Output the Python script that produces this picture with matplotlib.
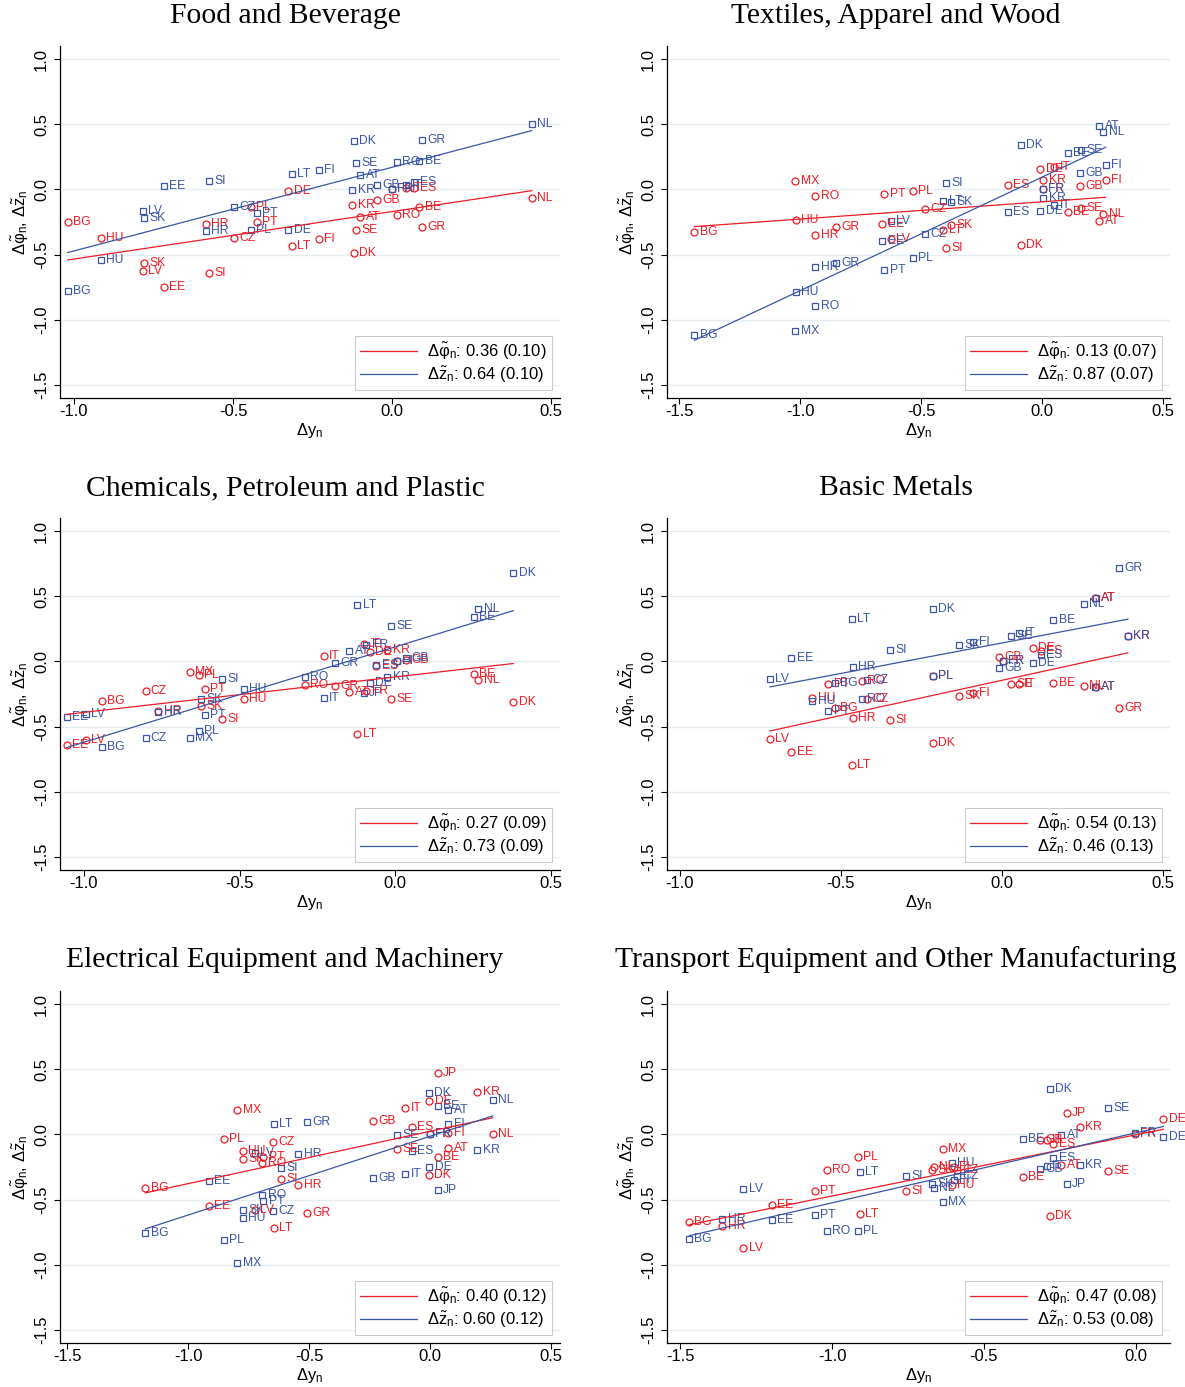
import matplotlib
matplotlib.use('Agg')
import matplotlib.pyplot as plt
from matplotlib.lines import Line2D
import numpy as np

plt.rcParams['font.family'] = ['Liberation Sans', 'DejaVu Sans']
plt.rcParams['mathtext.fontset'] = 'custom'
plt.rcParams['mathtext.rm'] = 'Liberation Sans'
plt.rcParams['mathtext.it'] = 'Liberation Sans:italic'
plt.rcParams['mathtext.default'] = 'regular'
plt.rcParams['axes.unicode_minus'] = False

RED = '#EE1C25'
BLUE = '#3A56A5'
GRID = '#E4EEF1'

# ---- Food and Beverage ----
food_names = ['BG', 'HU', 'LV', 'SK', 'EE', 'SI', 'HR', 'CZ', 'PL', 'PT', 'DE', 'LT', 'FI',
              'KR', 'DK', 'SE', 'AT', 'GB', 'FR', 'RO', 'IT', 'ES', 'BE', 'GR', 'NL']
food_dy = [-1.02, -0.915, -0.783, -0.781, -0.718, -0.575, -0.585, -0.497, -0.443, -0.425, -0.326,
           -0.315, -0.23, -0.125, -0.119, -0.114, -0.1, -0.046, 0.0, 0.014, 0.045, 0.07, 0.086,
           0.095, 0.439]
food_phi = [-0.25, -0.375, -0.626, -0.562, -0.746, -0.644, -0.267, -0.369, -0.136, -0.251, -0.015,
            -0.433, -0.379, -0.123, -0.49, -0.31, -0.213, -0.08, 0.0, -0.197, 0.01, 0.01, -0.133,
            -0.287, -0.064]
food_z = [-0.78, -0.544, -0.162, -0.223, 0.026, 0.067, -0.321, -0.133, -0.31, -0.179, -0.31,
          0.115, 0.146, -0.002, 0.369, 0.2, 0.113, 0.031, 0.0, 0.21, 0.035, 0.06, 0.221, 0.379,
          0.505]

# ---- Textiles, Apparel and Wood ----
tex_names = ['BG', 'MX', 'HU', 'RO', 'HR', 'GR', 'EE', 'PT', 'LV', 'PL', 'CZ', 'LT', 'SI', 'SK',
             'ES', 'DK', 'DE', 'FR', 'KR', 'IT', 'BE', 'GB', 'SE', 'AT', 'NL', 'FI']
tex_dy = [-1.437, -1.019, -1.018, -0.937, -0.937, -0.851, -0.66, -0.652, -0.624, -0.533, -0.485,
          -0.408, -0.398, -0.377, -0.142, -0.087, -0.007, 0.003, 0.006, 0.05, 0.106, 0.156,
          0.162, 0.237, 0.253, 0.263]
tex_phi = [-0.326, 0.064, -0.233, -0.049, -0.346, -0.29, -0.267, -0.036, -0.377, -0.01, -0.151,
           -0.315, -0.449, -0.274, 0.031, -0.428, 0.156, 0.0, 0.069, 0.172, -0.172, 0.023,
           -0.141, -0.246, -0.19, 0.074]
tex_z = [-1.115, -1.087, -0.79, -0.895, -0.595, -0.567, -0.397, -0.621, -0.246, -0.528, -0.341,
         -0.09, 0.049, -0.097, -0.174, 0.341, -0.164, 0.0, -0.069, -0.118, 0.279, 0.128, 0.3,
         0.485, 0.441, 0.19]

# ---- Chemicals, Petroleum and Plastic ----
chem_names = ['EE', 'LV', 'BG', 'CZ', 'HR', 'MX', 'PL', 'SK', 'PT', 'SI', 'HU', 'RO', 'IT', 'GR',
              'AT', 'LT', 'JP', 'FR', 'DE', 'ES', 'KR', 'SE', 'FI', 'GB', 'BE', 'NL', 'DK']
chem_dy = [-1.056, -0.994, -0.942, -0.802, -0.761, -0.659, -0.63, -0.624, -0.611, -0.557, -0.487,
           -0.29, -0.23, -0.193, -0.147, -0.121, -0.10, -0.092, -0.08, -0.06, -0.025, -0.012,
           0.005, 0.035, 0.254, 0.268, 0.38]
chem_phi = [-0.641, -0.602, -0.3, -0.225, -0.382, -0.079, -0.108, -0.344, -0.21, -0.438, -0.287,
            -0.179, 0.038, -0.192, -0.236, -0.554, 0.13, -0.225, 0.071, -0.038, 0.084, -0.287,
            0.0, 0.01, -0.095, -0.141, -0.308]
chem_z = [-0.425, -0.402, -0.654, -0.59, -0.385, -0.59, -0.536, -0.287, -0.41, -0.133, -0.21,
          -0.12, -0.279, -0.01, 0.079, 0.429, -0.243, 0.128, -0.164, -0.03, -0.118, 0.268, 0.0,
          0.025, 0.341, 0.4, 0.679]

# ---- Basic Metals ----
met_names = ['LV', 'EE', 'HU', 'PT', 'BG', 'LT', 'HR', 'RO', 'CZ', 'SI', 'DK', 'PL', 'SK', 'FI',
             'GB', 'FR', 'SE', 'IT', 'DE', 'ES', 'BE', 'NL', 'AT', 'AT', 'KR', 'GR']
met_dy = [-0.72, -0.654, -0.589, -0.539, -0.519, -0.466, -0.463, -0.435, -0.42, -0.348, -0.215,
          -0.215, -0.133, -0.089, -0.008, 0.002, 0.029, 0.054, 0.097, 0.12, 0.16, 0.255, 0.291,
          0.29, 0.391, 0.363]
met_phi = [-0.592, -0.695, -0.279, -0.172, -0.359, -0.797, -0.431, -0.15, -0.285, -0.446, -0.628,
           -0.11, -0.262, -0.244, 0.033, 0.0, -0.172, -0.172, 0.105, 0.08, -0.169, -0.186, -0.197,
           0.487, 0.192, -0.354]
met_z = [-0.138, 0.028, -0.305, -0.377, -0.167, 0.323, -0.044, -0.285, -0.14, 0.09, 0.405, -0.11,
         0.125, 0.146, -0.049, 0.0, 0.192, 0.218, -0.01, 0.05, 0.321, 0.441, 0.487, -0.197, 0.192,
         0.718]

# ---- Electrical Equipment and Machinery ----
ele_names = ['BG', 'EE', 'PL', 'MX', 'HU', 'SK', 'LV', 'PT', 'RO', 'CZ', 'LT', 'SI', 'HR', 'GR',
             'GB', 'SE', 'IT', 'ES', 'DE', 'DK', 'FR', 'BE', 'JP', 'FI', 'AT', 'KR', 'NL']
ele_dy = [-1.176, -0.914, -0.853, -0.796, -0.774, -0.772, -0.723, -0.689, -0.693, -0.65, -0.645,
          -0.615, -0.544, -0.51, -0.237, -0.135, -0.103, -0.076, -0.003, -0.004, 0.0, 0.032,
          0.032, 0.076, 0.076, 0.195, 0.259]
ele_phi = [-0.413, -0.55, -0.037, 0.191, -0.125, -0.189, -0.58, -0.175, -0.217, -0.058, -0.717,
           -0.344, -0.39, -0.6, 0.104, -0.114, 0.202, 0.058, 0.259, -0.313, 0.0, -0.176, 0.469,
           0.014, -0.104, 0.328, 0.004]
ele_z = [-0.755, -0.361, -0.812, -0.987, -0.642, -0.578, -0.14, -0.514, -0.467, -0.588, 0.076,
         -0.259, -0.153, 0.097, -0.334, -0.006, -0.3, -0.125, -0.253, 0.315, 0.004, 0.22, -0.429,
         0.079, 0.189, -0.12, 0.264]

# ---- Transport Equipment and Other Manufacturing ----
tra_names = ['BG', 'HR', 'LV', 'EE', 'PT', 'RO', 'PL', 'LT', 'SI', 'SK', 'NL', 'MX', 'HU', 'FI',
             'CZ', 'BE', 'GB', 'IT', 'DK', 'ES', 'AT', 'JP', 'KR', 'SE', 'FR', 'DE']
tra_dy = [-1.47, -1.361, -1.292, -1.197, -1.056, -1.017, -0.914, -0.908, -0.757, -0.672, -0.665,
          -0.636, -0.606, -0.60, -0.59, -0.371, -0.316, -0.294, -0.283, -0.272, -0.245, -0.228,
          -0.184, -0.093, -0.003, 0.09]
tra_phi = [-0.67, -0.704, -0.874, -0.539, -0.434, -0.272, -0.174, -0.614, -0.434, -0.274, -0.25,
           -0.112, -0.39, -0.25, -0.27, -0.33, -0.04, -0.04, -0.627, -0.073, -0.236, 0.161, 0.056,
           -0.282, 0.0, 0.117]
tra_z = [-0.802, -0.647, -0.418, -0.658, -0.619, -0.743, -0.743, -0.292, -0.32, -0.377, -0.408,
         -0.519, -0.218, -0.35, -0.32, -0.037, -0.269, -0.243, 0.351, -0.184, -0.004, -0.377,
         -0.236, 0.199, 0.009, -0.017]

titles = ['Food and Beverage', 'Textiles, Apparel and Wood', 'Chemicals, Petroleum and Plastic',
          'Basic Metals', 'Electrical Equipment and Machinery',
          'Transport Equipment and Other Manufacturing']
phi_coef = ['0.36 (0.10)', '0.13 (0.07)', '0.27 (0.09)', '0.54 (0.13)', '0.40 (0.12)', '0.47 (0.08)']
z_coef = ['0.64 (0.10)', '0.87 (0.07)', '0.73 (0.09)', '0.46 (0.13)', '0.60 (0.12)', '0.53 (0.08)']
xlims = [(-1.044, 0.528), (-1.55, 0.529), (-1.077, 0.53), (-1.04, 0.522), (-1.529, 0.537),
         (-1.543, 0.112)]
xticks = [[-1.0, -0.5, 0.0, 0.5], [-1.5, -1.0, -0.5, 0.0, 0.5], [-1.0, -0.5, 0.0, 0.5],
          [-1.0, -0.5, 0.0, 0.5], [-1.5, -1.0, -0.5, 0.0, 0.5], [-1.5, -1.0, -0.5, 0.0]]

panels = [(food_names, food_dy, food_phi, food_z), (tex_names, tex_dy, tex_phi, tex_z),
          (chem_names, chem_dy, chem_phi, chem_z), (met_names, met_dy, met_phi, met_z),
          (ele_names, ele_dy, ele_phi, ele_z), (tra_names, tra_dy, tra_phi, tra_z)]

W, H = 1185, 1387
fig = plt.figure(figsize=(W / 100, H / 100), dpi=100)

lefts = [60, 667]
widths = [500, 503]
bottoms = [398, 870, 1343]
title_y = [16, 488, 960]
title_x = [285, 896]

for i, (names, dy, phi, z) in enumerate(panels):
    r, c = divmod(i, 2)
    ax = fig.add_axes([lefts[c] / W, 1 - bottoms[r] / H, widths[c] / W, 352 / H])
    dy = np.array(dy)
    phi = np.array(phi)
    z = np.array(z)

    ax.plot(dy, phi, 'o', mfc='none', mec=RED, ms=5, mew=0.9, zorder=3, clip_on=False)
    ax.plot(dy, z, 's', mfc='none', mec=BLUE, ms=5, mew=0.9, zorder=3, clip_on=False)
    for n, xv, pv, zv in zip(names, dy, phi, z):
        ax.annotate(n, (xv, pv), xytext=(3.8, 0), textcoords='offset points', va='center',
                    ha='left', fontsize=8.7, color=RED, annotation_clip=False)
        ax.annotate(n, (xv, zv), xytext=(3.8, 0), textcoords='offset points', va='center',
                    ha='left', fontsize=8.7, color=BLUE, annotation_clip=False)

    # fitted lines
    xs = np.array([dy.min(), dy.max()])
    bp = np.polyfit(dy, phi, 1)
    bz = np.polyfit(dy, z, 1)
    ax.plot(xs, np.polyval(bp, xs), color=RED, lw=0.9, zorder=4)
    ax.plot(xs, np.polyval(bz, xs), color=BLUE, lw=0.9, zorder=4)

    ax.set_xlim(xlims[i])
    ax.set_ylim(-1.6, 1.1)
    ax.set_xticks(xticks[i])
    ax.set_xticklabels(['%.1f' % t for t in xticks[i]])
    yt = [-1.5, -1.0, -0.5, 0.0, 0.5, 1.0]
    ax.set_yticks(yt)
    ax.set_yticklabels(['%.1f' % t for t in yt], rotation=90, va='center')
    ax.tick_params(length=4, width=0.8, labelsize=12, direction='out')
    ax.tick_params(axis='x', pad=0.5)
    ax.tick_params(axis='y', pad=4)
    ax.yaxis.grid(True, color=GRID, lw=1)
    ax.set_axisbelow(True)
    for s in ['top', 'right']:
        ax.spines[s].set_visible(False)
    for s in ['left', 'bottom']:
        ax.spines[s].set_linewidth(0.9)

    ax.set_xlabel(r'$\Delta y_n$', fontsize=12, labelpad=1.5)
    ax.set_ylabel(r'$\Delta\tilde{\varphi}_n$, $\Delta\tilde{z}_n$', fontsize=12, labelpad=2)

    handles = [Line2D([], [], color=RED, lw=0.9), Line2D([], [], color=BLUE, lw=0.9)]
    labels = [r'$\Delta\tilde{\varphi}_n$: ' + phi_coef[i], r'$\Delta\tilde{z}_n$: ' + z_coef[i]]
    leg = ax.legend(handles, labels, loc='lower right', fontsize=12, handlelength=3.4,
                    fancybox=False, framealpha=1, edgecolor='#CCCCCC', borderpad=0.3,
                    labelspacing=0.15, borderaxespad=0.5, handletextpad=0.6)
    leg.get_frame().set_linewidth(0.8)

    fig.text(title_x[c] / W, 1 - title_y[r] / H, titles[i], ha='center', va='center',
             fontsize=21.3, family=['Liberation Serif', 'DejaVu Serif'])

fig.savefig('out.png', dpi=100)
